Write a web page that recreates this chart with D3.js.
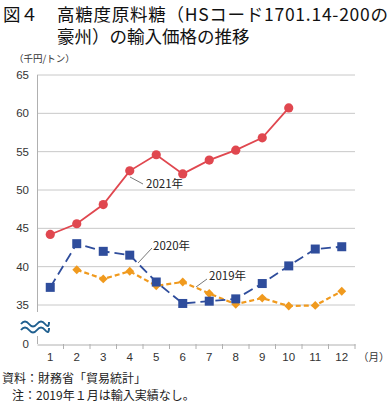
<!DOCTYPE html>
<html>
<head>
<meta charset="utf-8">
<script src="https://cdn.jsdelivr.net/npm/d3@7"></script>
<style>
  body { margin: 0; background: #fff; }
  svg { font-family: "Noto Sans CJK JP", "Noto Sans", sans-serif; }
</style>
</head>
<body>
<div id="chart"></div>
<script>
"use strict";
const months = ["1", "2", "3", "4", "5", "6", "7", "8", "9", "10", "11", "12"];
const yTicks = [0, 35, 40, 45, 50, 55, 60, 65];

// null = no data
const y2021 = [44.2, 45.6, 48.1, 52.5, 54.6, 52.1, 53.9, 55.2, 56.8, 60.7, null, null];
const y2020 = [37.3, 43.0, 42.0, 41.5, 38.0, 35.2, 35.5, 35.8, 37.8, 40.1, 42.3, 42.6];
const y2019 = [null, 39.6, 38.4, 39.4, 37.5, 38.0, 36.5, 35.1, 35.9, 34.1, 34.6, 36.8];

const width = 390, height = 402;
const plot = {left: 37, right: 355, top: 75, bottom: 344};

const svg = d3.select("#chart").append("svg")
    .attr("width", width)
    .attr("height", height);

const x = d3.scaleBand().domain(months).range([plot.left, plot.right]);
// broken axis: 0 sits one step below 35
const y = d3.scaleLinear().domain([0, 35, 65]).range([plot.bottom, 305, plot.top]);

// title
const title = svg.append("g").attr("font-size", 17.5).attr("fill", "#111");
title.append("text").attr("x", 3).attr("y", 21).text("図４");
title.append("text").attr("x", 57).attr("y", 21).attr("textLength", 331).text("高糖度原料糖（HSコード1701.14-200の");
title.append("text").attr("x", 57).attr("y", 43).text("豪州）の輸入価格の推移");

svg.append("text")
    .attr("x", 14).attr("y", 62)
    .attr("font-size", 9.5).attr("fill", "#333")
    .text("（千円/トン）");

// gridlines
svg.append("g")
    .selectAll("line")
    .data(yTicks.filter(d => d >= 35))
    .join("line")
    .attr("x1", plot.left).attr("x2", plot.right)
    .attr("y1", d => y(d)).attr("y2", d => y(d))
    .attr("stroke", "#c8c8c8").attr("stroke-width", 1);

// y axis pieces
const axisColor = "#b0b0b0";
svg.append("line")
    .attr("x1", plot.left + 0.5).attr("x2", plot.left + 0.5)
    .attr("y1", y(65)).attr("y2", y(35) + 7)
    .attr("stroke", axisColor);
svg.append("line")
    .attr("x1", plot.left + 0.5).attr("x2", plot.left + 0.5)
    .attr("y1", plot.bottom - 8).attr("y2", plot.bottom)
    .attr("stroke", axisColor);

// x axis
const xAxis = d3.axisBottom(x).tickSize(0).tickPadding(8);
const gX = svg.append("g")
    .attr("transform", `translate(0,${plot.bottom + 0.5})`)
    .call(xAxis);
gX.select(".domain").attr("stroke", axisColor);
gX.selectAll(".tick text").attr("font-size", 11.5).attr("fill", "#333")
    .attr("font-family", "Liberation Sans, Arial, sans-serif");
svg.append("g")
    .selectAll("line")
    .data(months)
    .join("line")
    .attr("x1", d => x(d) + x.bandwidth())
    .attr("x2", d => x(d) + x.bandwidth())
    .attr("y1", plot.bottom).attr("y2", plot.bottom + 5)
    .attr("stroke", axisColor);

svg.append("text")
    .attr("x", 358).attr("y", plot.bottom + 17)
    .attr("font-size", 10.5).attr("fill", "#333")
    .text("（月）");

// y tick labels
svg.append("g")
    .selectAll("text")
    .data(yTicks)
    .join("text")
    .attr("x", 29)
    .attr("y", d => y(d))
    .attr("dy", "0.35em")
    .attr("text-anchor", "end")
    .attr("font-size", 11.5).attr("fill", "#333")
    .attr("font-family", "Liberation Sans, Arial, sans-serif")
    .text(d => d);

// break mark
const wave = (y0) => `M21,${y0} q4,-5 8,0 t8,0 t8,0 t4,-2`;
svg.append("g")
    .attr("fill", "none").attr("stroke", "#1f5f8f").attr("stroke-width", 2)
    .selectAll("path")
    .data([324, 330])
    .join("path")
    .attr("d", d => wave(d));

const cx = d => x(d) + x.bandwidth() / 2;

function drawSeries(values, color, dash, w) {
    const pts = values.map((v, i) => ({m: months[i], v})).filter(d => d.v !== null);
    const line = d3.line().x(d => cx(d.m)).y(d => y(d.v));
    svg.append("path")
        .datum(pts)
        .attr("fill", "none")
        .attr("stroke", color)
        .attr("stroke-width", w)
        .attr("stroke-dasharray", dash)
        .attr("d", line);
    return pts;
}

// 2019
const p2019 = drawSeries(y2019, "#f09a1e", "5,3", 2.2);
svg.append("g").selectAll("path")
    .data(p2019).join("path")
    .attr("transform", d => `translate(${cx(d.m)},${y(d.v)})`)
    .attr("d", d3.symbol(d3.symbolDiamond2, 50))
    .attr("fill", "#f09a1e");

// 2020
const p2020 = drawSeries(y2020, "#2f4d9c", "10,5", 1.8);
svg.append("g").selectAll("rect")
    .data(p2020).join("rect")
    .attr("x", d => cx(d.m) - 4.5).attr("y", d => y(d.v) - 4.5)
    .attr("width", 9).attr("height", 9)
    .attr("fill", "#2f4d9c");

// 2021
const p2021 = drawSeries(y2021, "#e0474f", null, 1.8);
svg.append("g").selectAll("circle")
    .data(p2021).join("circle")
    .attr("cx", d => cx(d.m)).attr("cy", d => y(d.v))
    .attr("r", 4.6)
    .attr("fill", "#e0474f");

// series labels with leaders
const labels = [
    {text: "2021年", tx: 146, ty: 188, line: [[143, 184], [130, 177]]},
    {text: "2020年", tx: 153, ty: 250, line: [[152, 248], [138, 263]]},
    {text: "2019年", tx: 209, ty: 280, line: [[207, 279], [196, 287]]}
];
const gl = svg.append("g");
labels.forEach(l => {
    gl.append("line")
        .attr("x1", l.line[0][0]).attr("y1", l.line[0][1])
        .attr("x2", l.line[1][0]).attr("y2", l.line[1][1])
        .attr("stroke", "#555").attr("stroke-width", 0.8);
    gl.append("text")
        .attr("x", l.tx).attr("y", l.ty)
        .attr("font-size", 11.5).attr("fill", "#222")
        .text(l.text);
});

// footer
const foot = svg.append("g").attr("font-size", 12).attr("fill", "#222");
foot.append("text").attr("x", 2).attr("y", 383).text("資料：財務省「貿易統計」");
foot.append("text").attr("x", 12).attr("y", 400).text("注：2019年１月は輸入実績なし。");
</script>
</body>
</html>
